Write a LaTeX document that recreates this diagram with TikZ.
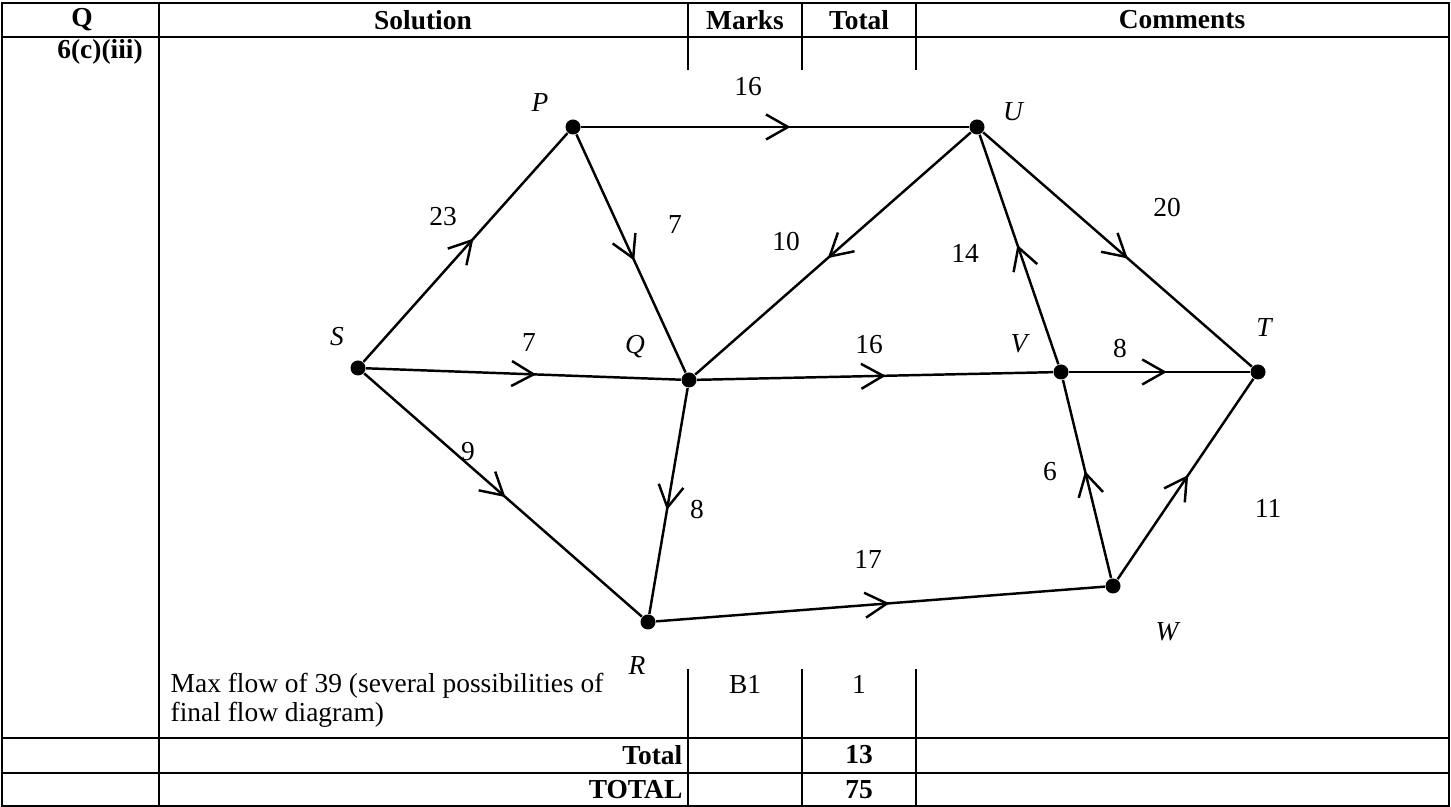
\documentclass[tikz,border=0pt]{standalone}
\usepackage{fontspec}
\setmainfont{Liberation Serif}
\usetikzlibrary{arrows.meta}
\usetikzlibrary{decorations.markings}
\tikzset{
    vertex/.style = {circle, fill=black, inner sep=0pt, minimum size=0.15cm},
    vname/.style = {inner sep=0pt, font=\fontsize{7.8pt}{8.3pt}\selectfont\itshape},
    wlab/.style = {inner sep=0pt},
    hdr/.style = {inner sep=0pt, font=\fontsize{7.8pt}{8.3pt}\selectfont\bfseries},
    cell/.style = {inner sep=0pt},
    tline/.style = {line width=0.65pt},
    edgef/.style = {line width=0.7pt, postaction={decorate},
        decoration={markings, mark=at position #1 with {\arrow{Straight Barb[length=0.22cm,width=0.25cm]}}}},
    edgef/.default = 0.54
}

\begin{document}
\begin{tikzpicture}[x=0.01cm, y=-0.01cm, font=\fontsize{7.8pt}{8.3pt}\selectfont]
  \useasboundingbox (0,0) rectangle (1451,807);

  % table
  \draw[tline] (2,3) rectangle (1449,806);
  \draw[tline] (2,37) -- (1449,37);
  \draw[tline] (2,738) -- (1449,738);
  \draw[tline] (2,773) -- (1449,773);
  \draw[tline] (159,3) -- (159,806);
  \foreach \x in {688,802,916} {
    \draw[tline] (\x,3) -- (\x,70);
    \draw[tline] (\x,669) -- (\x,806);
  }

  \node[hdr] (hq) at (82,20) {Q};
  \node[hdr] (hsol) at (423,20) {Solution};
  \node[hdr] (hmarks) at (745,20) {Marks};
  \node[hdr] (htotal) at (859,20) {Total};
  \node[hdr] (hcom) at (1182,20) {Comments};
  \node[hdr] (qno) at (100,52) {6(c)(iii)};

  \node[cell, anchor=north west, align=left] (maxflow) at (170,672)
    {Max flow of 39 (several possibilities of\\final flow diagram)};
  \node[cell] (mark) at (745,684) {B1};
  \node[cell] (one) at (859,684) {1};
  \node[hdr, anchor=east] (totl) at (683,755) {Total};
  \node[hdr] (tot13) at (859,755) {13};
  \node[hdr, anchor=east] (totall) at (683,790) {TOTAL};
  \node[hdr] (tot75) at (859,790) {75};

  % network
  \node[vertex] (S) at (358,368) {};
  \node[vertex] (P) at (573,127) {};
  \node[vertex] (U) at (977,127) {};
  \node[vertex] (Q) at (689,380) {};
  \node[vertex] (V) at (1061,372) {};
  \node[vertex] (T) at (1258,372) {};
  \node[vertex] (R) at (648,622) {};
  \node[vertex] (W) at (1113,586) {};

  \node[vname] (Sl) at (337,337) {S};
  \node[vname] (Pl) at (540,103) {P};
  \node[vname] (Ul) at (1013,112) {U};
  \node[vname] (Ql) at (635,347) {Q};
  \node[vname] (Vl) at (1019,344) {V};
  \node[vname] (Tl) at (1264,328) {T};
  \node[vname] (Rl) at (637,666) {R};
  \node[vname] (Wl) at (1167,632) {W};

  \draw[edgef] (S) -- (P);
  \draw[edgef] (P) -- (U);
  \draw[edgef=0.53] (P) -- (Q);
  \draw[edgef=0.52] (U) -- (Q);
  \draw[edgef] (U) -- (T);
  \draw[edgef=0.52] (V) -- (U);
  \draw[edgef] (S) -- (Q);
  \draw[edgef=0.53] (Q) -- (V);
  \draw[edgef] (V) -- (T);
  \draw[edgef=0.51] (S) -- (R);
  \draw[edgef] (Q) -- (R);
  \draw[edgef=0.52] (R) -- (W);
  \draw[edgef] (W) -- (V);
  \draw[edgef=0.52] (W) -- (T);

  \node[wlab] (wsp) at (443,217) {23};
  \node[wlab] (wpu) at (748,87) {16};
  \node[wlab] (wpq) at (675,225) {7};
  \node[wlab] (wuq) at (786,242) {10};
  \node[wlab] (wut) at (1167,208) {20};
  \node[wlab] (wvu) at (965,253) {14};
  \node[wlab] (wsq) at (529,343) {7};
  \node[wlab] (wqv) at (869,345) {16};
  \node[wlab] (wvt) at (1120,349) {8};
  \node[wlab] (wsr) at (468,452) {9};
  \node[wlab] (wqr) at (697,510) {8};
  \node[wlab] (wrw) at (868,559) {17};
  \node[wlab] (wwv) at (1050,472) {6};
  \node[wlab] (wwt) at (1268,508) {11};

\end{tikzpicture}
\end{document}
